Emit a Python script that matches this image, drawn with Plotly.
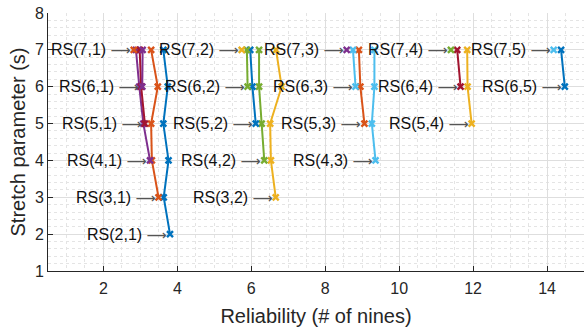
import plotly.graph_objects as go

# Stretch parameter values (y) for each series start at n0 and run up to 7
S_MAX = 7

# Series: (name, n0) and reliability values (# of nines) for s = n0..7
series_names = ["RS(2,1)", "RS(3,1)", "RS(3,2)", "RS(4,1)", "RS(4,2)", "RS(4,3)",
                "RS(5,1)", "RS(5,2)", "RS(5,3)", "RS(5,4)",
                "RS(6,1)", "RS(6,2)", "RS(6,3)", "RS(6,4)", "RS(6,5)",
                "RS(7,1)", "RS(7,2)", "RS(7,3)", "RS(7,4)", "RS(7,5)"]
series_start = [2, 3, 3, 4, 4, 4, 5, 5, 5, 5, 6, 6, 6, 6, 6, 7, 7, 7, 7, 7]

rel_RS21 = [3.80, 3.63, 3.76, 3.62, 3.74, 3.62]
rel_RS31 = [3.49, 3.31, 3.29, 3.47, 3.29]
rel_RS32 = [6.66, 6.53, 6.51, 6.82, 6.67]
rel_RS41 = [3.26, 3.08, 2.97, 2.88]
rel_RS42 = [6.35, 6.28, 6.21, 6.21]
rel_RS43 = [9.36, 9.26, 9.33, 9.33]
rel_RS51 = [3.12, 3.02, 2.98]
rel_RS52 = [6.12, 6.03, 5.97]
rel_RS53 = [9.06, 8.95, 8.91]
rel_RS54 = [11.96, 11.85, 11.84]
rel_RS61 = [3.05, 3.06]
rel_RS62 = [5.90, 5.88]
rel_RS63 = [8.82, 8.75]
rel_RS64 = [11.66, 11.57]
rel_RS65 = [14.48, 14.38]
rel_RS71 = [2.82]
rel_RS72 = [5.74]
rel_RS73 = [8.58]
rel_RS74 = [11.40]
rel_RS75 = [14.18]

series_values = [rel_RS21, rel_RS31, rel_RS32, rel_RS41, rel_RS42, rel_RS43,
                 rel_RS51, rel_RS52, rel_RS53, rel_RS54,
                 rel_RS61, rel_RS62, rel_RS63, rel_RS64, rel_RS65,
                 rel_RS71, rel_RS72, rel_RS73, rel_RS74, rel_RS75]

x_ticks = [2, 4, 6, 8, 10, 12, 14]
y_ticks = [1, 2, 3, 4, 5, 6, 7, 8]

colors = ["#0072BD", "#D95319", "#EDB120", "#7E2F8E", "#77AC30", "#4DBEEE", "#A2142F"]
FONT = "Liberation Sans, Arial, sans-serif"
TXT = "#262626"

fig = go.Figure()
annotations = []
for i, (name, n0, vals) in enumerate(zip(series_names, series_start, series_values)):
    ys = list(range(n0, S_MAX + 1))
    c = colors[i % len(colors)]
    fig.add_trace(go.Scatter(
        x=vals, y=ys, mode="lines+markers", name=name,
        line=dict(color=c, width=2),
        marker=dict(symbol="x-thin", size=6, line=dict(color=c, width=2.4), color=c),
        showlegend=False, cliponaxis=False))
    annotations.append(dict(
        x=vals[0], y=n0, xref="x", yref="y",
        text=(f"{name} <span style='font-family:DejaVu Sans;color:#555;font-size:14px'>"
              f"⟶</span>"),
        showarrow=False, xanchor="right", yanchor="middle", xshift=-1,
        font=dict(family=FONT, size=16, color="#111")))

fig.update_layout(
    width=584, height=331,
    margin=dict(l=48, r=0, t=13, b=60),
    paper_bgcolor="white", plot_bgcolor="white",
    font=dict(family=FONT, size=16, color=TXT),
    annotations=annotations,
)
fig.update_xaxes(
    range=[0.5, 15], tickvals=x_ticks, ticktext=[str(v) for v in x_ticks],
    title=dict(text="Reliability (# of nines)", font=dict(size=20), standoff=12),
    automargin=False, ticklabelstandoff=3,
    showline=True, linecolor=TXT, linewidth=1, mirror=False,
    ticks="inside", ticklen=5, tickcolor=TXT,
    showgrid=True, gridcolor="#dedede", gridwidth=1, zeroline=False,
    minor=dict(dtick=0.5, showgrid=True, gridcolor="#e4e4e4", griddash="dot", gridwidth=1),
)
fig.update_yaxes(
    range=[1, 8], tickvals=y_ticks, ticktext=[str(v) for v in y_ticks],
    title=dict(text="Stretch parameter (s)", font=dict(size=20), standoff=3),
    automargin=False,
    showline=True, linecolor=TXT, linewidth=1, mirror=False,
    ticks="inside", ticklen=5, tickcolor=TXT,
    showgrid=True, gridcolor="#dedede", gridwidth=1, zeroline=False,
    minor=dict(dtick=0.2, showgrid=True, gridcolor="#e4e4e4", griddash="dot", gridwidth=1),
)

# remove the default 8px page margin so the figure sits at the window origin
fig.write_html("out.html", config={"displayModeBar": False},
               post_script="document.body.style.margin='0';")
